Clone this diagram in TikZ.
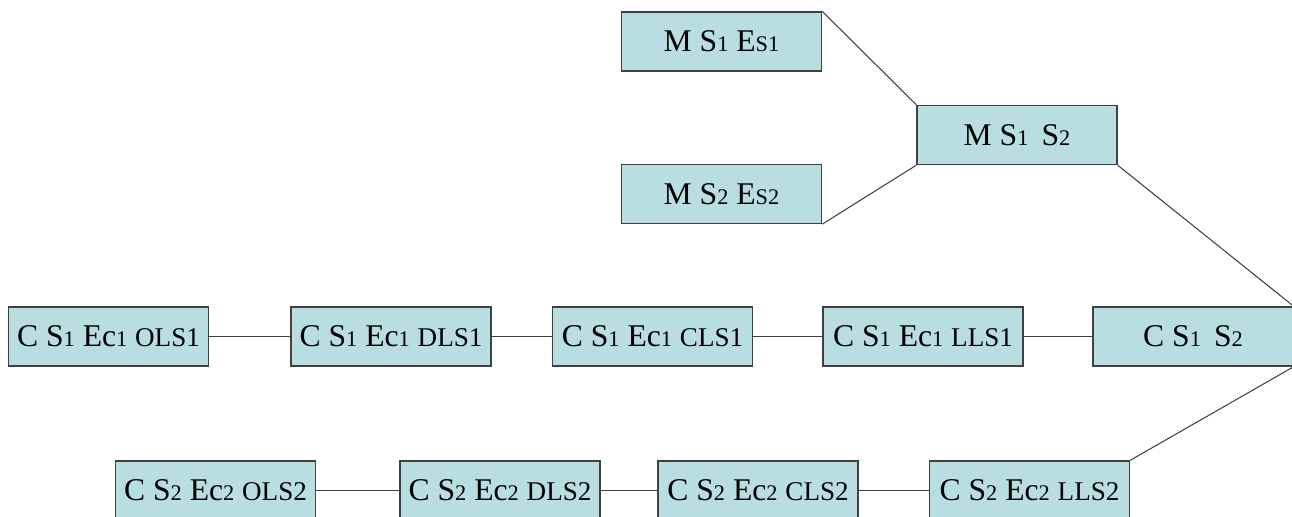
\documentclass[tikz,border=0pt]{standalone}
\usepackage{fontspec}
\setmainfont{Liberation Serif}
\usepackage{tikz}
\definecolor{boxfill}{RGB}{184,222,225}
\colorlet{boxline}{black!75}
\newcommand\sm[1]{{\fontsize{12.7}{12}\selectfont #1}}
\newcommand\md[1]{{\fontsize{15.4}{14}\selectfont #1}}

\begin{document}
\begin{tikzpicture}[
  x=0.02cm, y=-0.02cm,
  stage/.style={draw=boxline, fill=boxfill, line width=0.8pt,
    minimum width=4cm, minimum height=1.18cm, inner sep=0pt,
    font=\fontsize{18}{20}\selectfont},
  link/.style={draw=boxline, line width=0.6pt}
]
\useasboundingbox (0,0) rectangle (1292,517);
% merge stages
\node[stage] (ms1es1) at (721.5,41.5) {M S\sm{1} E\sm{S1}};
\node[stage] (ms2es2) at (721.5,194) {M S\sm{2} E\sm{S2}};
\node[stage] (ms1s2) at (1017,135) {M S\sm{1}\, S\sm{2}};
% first chain
\foreach \nm/\x/\txt in {c1o/108.5/{C S\sm{1} Ec\sm{1} \md{OLS1}},
    c1d/391/{C S\sm{1} Ec\sm{1} \md{DLS1}},
    c1c/652.5/{C S\sm{1} Ec\sm{1} \md{CLS1}},
    c1l/923/{C S\sm{1} Ec\sm{1} \md{LLS1}},
    cs1s2/1193/{C S\sm{1}\, S\sm{2}}}
  \node[stage] (\nm) at (\x,336.5) {\txt};
% second chain
\foreach \nm/\x/\txt in {c2o/215.5/{C S\sm{2} Ec\sm{2} \md{OLS2}},
    c2d/500/{C S\sm{2} Ec\sm{2} \md{DLS2}},
    c2c/758/{C S\sm{2} Ec\sm{2} \md{CLS2}},
    c2l/1029.5/{C S\sm{2} Ec\sm{2} \md{LLS2}}}
  \node[stage] (\nm) at (\x,490.5) {\txt};
% links
\foreach \a/\b in {c1o/c1d,c1d/c1c,c1c/c1l,c1l/cs1s2,c2o/c2d,c2d/c2c,c2c/c2l}
  \draw[link] (\a) -- (\b);
\draw[link] (ms1es1.north east) -- (ms1s2.north west);
\draw[link] (ms2es2.south east) -- (ms1s2.south west);
\draw[link] (ms1s2.south east) -- (cs1s2.north east);
\draw[link] (cs1s2.south east) -- (c2l.north east);
\end{tikzpicture}
\end{document}
